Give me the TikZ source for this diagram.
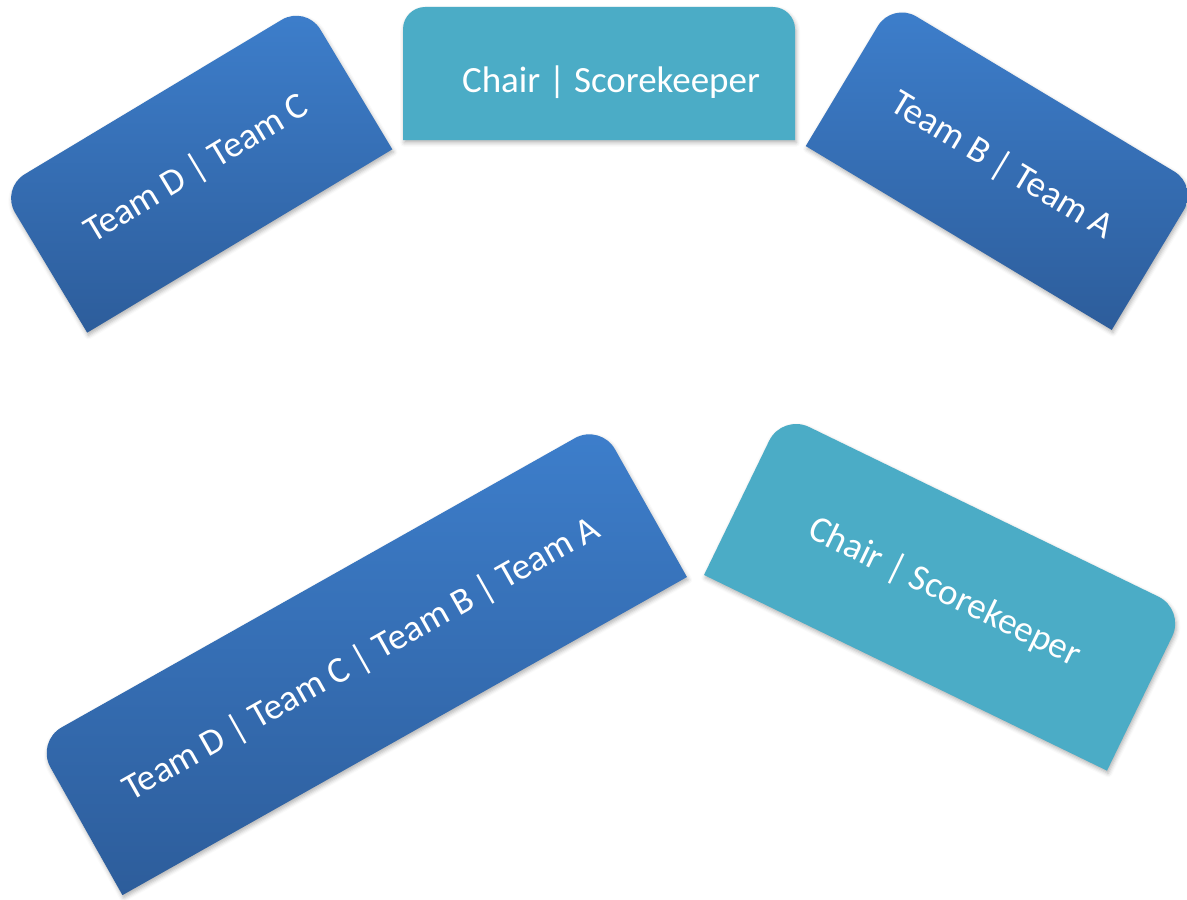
\documentclass[tikz,border=0pt]{standalone}
\usepackage{fontspec}
\setmainfont{Carlito}
\usetikzlibrary{shadows.blur}

\definecolor{tealfill}{HTML}{4BACC6}
\definecolor{bluetop}{HTML}{3D7ECB}
\definecolor{bluebot}{HTML}{2D5D9B}

% tab with the two upper corners rounded: centre, angle, width, height, fill
\newcommand{\tabbox}[5]{%
  \path[shift={#1}, rotate=#2, #5, tabshadow]
    (-#3/2,-#4/2) -- (-#3/2,#4/3) arc[start angle=180, end angle=90, radius=#4/6]
    -- (#3/2-#4/6,#4/2) arc[start angle=90, end angle=0, radius=#4/6]
    -- (#3/2,-#4/2) -- cycle;}

\tikzset{
  tabshadow/.style={blur shadow={shadow xshift=0.6pt, shadow yshift=-1.4pt,
      shadow blur radius=2pt, shadow opacity=30}},
  bluetab/.style={top color=bluetop, bottom color=bluebot},
  tealtab/.style={fill=tealfill},
  boxtext/.style={text=white, font=\fontsize{18.5}{22}\selectfont},
}

\begin{document}
\begin{tikzpicture}[x=0.5pt, y=0.5pt]
  \useasboundingbox (0,0) rectangle (1187,-899);

  \tabbox{(196.5,-169)}{31}{356}{168}{bluetab}
  \tabbox{(599,-73.5)}{0}{392}{133}{tealtab}
  \tabbox{(1002,-166)}{-31}{357}{168}{bluetab}
  \tabbox{(361.5,-659.4)}{29.4}{648}{176}{bluetab}
  \tabbox{(944.6,-592.3)}{-25.9}{448}{179}{tealtab}

  \node[boxtext, rotate=31] (teamdc) at (196.5,-169) {Team D | Team C};
  \node[boxtext] (chairtop) at (611,-82) {Chair | Scorekeeper};
  \node[boxtext, rotate=-31] (teamba) at (1002,-166) {Team B | Team A};
  \node[boxtext, rotate=29.4] (teamall) at (361.5,-659.4) {Team D | Team C | Team B | Team A};
  \node[boxtext, rotate=-25.9] (chairbot) at (944.6,-592.3) {Chair | Scorekeeper};
\end{tikzpicture}
\end{document}
